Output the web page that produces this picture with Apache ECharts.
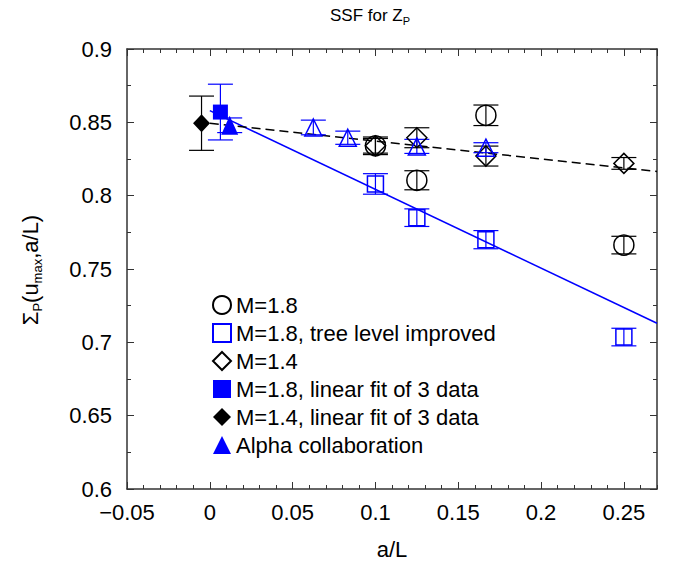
<!DOCTYPE html>
<html><head><meta charset="utf-8">
<script src="https://cdn.jsdelivr.net/npm/echarts@6/dist/echarts.min.js"></script>
<style>html,body{margin:0;padding:0;background:#fff}#c{width:678px;height:565px}</style>
</head><body><div id="c"></div>
<script>
// ---- tick labels ----
const xTicks = [-0.05, 0, 0.05, 0.1, 0.15, 0.2, 0.25];
const yTicks = [0.6, 0.65, 0.7, 0.75, 0.8, 0.85, 0.9];

// ---- M=1.8 (open circle) ----
const m18X = [0.1, 0.125, 0.1667, 0.25];
const m18Y = [0.834, 0.8105, 0.8548, 0.7663];
const m18Err = [0.006, 0.0065, 0.007, 0.006];

// ---- M=1.8 tree level improved (open blue square) ----
const m18tX = [0.1, 0.125, 0.1667, 0.25];
const m18tY = [0.808, 0.785, 0.770, 0.7036];
const m18tErr = [0.007, 0.006, 0.0062, 0.006];

// ---- M=1.4 (open diamond) ----
const m14X = [0.1, 0.125, 0.1667, 0.25];
const m14Y = [0.834, 0.8395, 0.827, 0.822];
const m14Err = [0.005, 0.0068, 0.0068, 0.004];

// ---- extrapolated values ----
const fit18X = [0.0064], fit18Y = [0.857], fit18Err = [0.019];
const fit14X = [-0.005], fit14Y = [0.8494], fit14Err = [0.0185];
const alphaX = [0.012], alphaY = [0.848], alphaErr = [0.005];

// ---- ALPHA collaboration data (open blue triangles) ----
const alphaOpenX = [0.0625, 0.0833, 0.125, 0.1667];
const alphaOpenY = [0.8465, 0.8395, 0.8336, 0.8327];
const alphaOpenErr = [0.005, 0.0045, 0.0048, 0.0034];

// ---- fit lines ----
const line18X = [0, 0.27], line18Y = [0.858, 0.713];
const line14X = [0, 0.27], line14Y = [0.8494, 0.8165];

const FONT = '"Liberation Sans", Arial, Helvetica, sans-serif';
const BLUE = '#0000ff';
const BLACK = '#000000';

function pts(xs, ys) { return xs.map((x, i) => [x, ys[i]]); }
function errs(xs, ys, es) { return xs.map((x, i) => [x, ys[i] - es[i], ys[i] + es[i]]); }

function errRender(color) {
  return function (params, api) {
    const p1 = api.coord([api.value(0), api.value(1)]);
    const p2 = api.coord([api.value(0), api.value(2)]);
    const hw = 12.5;
    const st = { stroke: color, lineWidth: 1.2, fill: 'none' };
    return { type: 'group', children: [
      { type: 'line', shape: { x1: p1[0], y1: p1[1], x2: p2[0], y2: p2[1] }, style: st },
      { type: 'line', shape: { x1: p1[0] - hw, y1: p1[1], x2: p1[0] + hw, y2: p1[1] }, style: st },
      { type: 'line', shape: { x1: p2[0] - hw, y1: p2[1], x2: p2[0] + hw, y2: p2[1] }, style: st }
    ]};
  };
}
function errSeries(xs, ys, es, color) {
  return { type: 'custom', silent: true, xAxisIndex: 0, yAxisIndex: 0,
    renderItem: errRender(color), encode: { x: 0, y: [1, 2] }, data: errs(xs, ys, es), z: 2 };
}
function scat(name, xs, ys, symbol, size, fill, stroke, bw) {
  return { type: 'scatter', name: name, xAxisIndex: 0, yAxisIndex: 0, symbol: symbol, symbolSize: size,
    itemStyle: { color: fill, borderColor: stroke, borderWidth: bw, opacity: 1 },
    emphasis: { disabled: true }, data: pts(xs, ys), z: 3 };
}
function fmt(v) {
  const r = Math.round(v * 1000) / 1000;
  return (r < 0 ? '\u2212' : '') + String(Math.abs(r));
}
const axisCol = '#333';
function xAx(pos, interval, main) {
  return { type: 'value', position: pos, min: -0.05, max: 0.27, interval: interval,
    axisLine: { show: main, onZero: false, lineStyle: { color: axisCol, width: 1.5 } },
    axisTick: { show: true, inside: true, length: main ? 7 : 4, lineStyle: { color: axisCol, width: 1 } },
    axisLabel: { show: main && pos === 'bottom', fontSize: 22, fontFamily: FONT, color: '#000', margin: 12,
      showMaxLabel: false,
      formatter: v => xTicks.some(t => Math.abs(t - v) < 1e-6) ? fmt(v) : '' },
    splitLine: { show: false },
    name: (main && pos === 'bottom') ? 'a/L' : '', nameLocation: 'middle', nameGap: 49,
    nameTextStyle: { fontSize: 22, fontFamily: FONT, color: '#000' } };
}
function yAx(pos, main) {
  return { type: 'value', position: pos, min: 0.6, max: 0.9, interval: 0.05,
    axisLine: { show: true, onZero: false, lineStyle: { color: axisCol, width: 1.5 } },
    axisTick: { show: true, inside: true, length: 7, lineStyle: { color: axisCol, width: 1 } },
    minorTick: { show: true, splitNumber: 2, length: 4, lineStyle: { color: axisCol, width: 1 } },
    axisLabel: { show: main, fontSize: 22, fontFamily: FONT, color: '#000', margin: 15,
      formatter: v => yTicks.some(t => Math.abs(t - v) < 1e-6) ? fmt(v) : '' },
    splitLine: { show: false } };
}

const chart = echarts.init(document.getElementById('c'), null, { renderer: 'svg' });
chart.setOption({
  animation: false,
  backgroundColor: '#fff',
  grid: { left: 127, right: 21, top: 49, bottom: 74 },
  xAxis: [xAx('bottom', 0.05, true), xAx('top', 0.05, true), xAx('bottom', 0.01, false), xAx('top', 0.01, false)],
  yAxis: [yAx('left', true), yAx('right', false)],
  legend: {
    orient: 'vertical', left: 207, top: 289, itemWidth: 18, itemHeight: 18, itemGap: 6,
    selectedMode: false, textStyle: { fontSize: 22, fontFamily: FONT, color: '#000' },
    data: [
      { name: 'M=1.8', icon: 'circle' },
      { name: 'M=1.8, tree level improved', icon: 'rect' },
      { name: 'M=1.4', icon: 'diamond' },
      { name: 'M=1.8, linear fit of 3 data', icon: 'rect' },
      { name: 'M=1.4, linear fit of 3 data', icon: 'diamond' },
      { name: 'Alpha collaboration', icon: 'triangle' }
    ]
  },
  graphic: [
    { type: 'text', x: 370, y: 15, style: { text: '{a|SSF for Z}{s|P}', textAlign: 'center', textVerticalAlign: 'middle',
      rich: { a: { fontSize: 17, fontFamily: FONT, fill: '#000', lineHeight: 22, verticalAlign: 'middle' },
              s: { fontSize: 11, fontFamily: FONT, fill: '#000', lineHeight: 14, verticalAlign: 'bottom' } } } },
    { type: 'text', x: 30, y: 270, rotation: Math.PI / 2,
      style: { text: '{a|\u03A3}{s|P}{a|(u}{s|max}{a|,a/L)}', textAlign: 'center', textVerticalAlign: 'middle',
      rich: { a: { fontSize: 22, fontFamily: FONT, fill: '#000', lineHeight: 28, verticalAlign: 'middle' },
              s: { fontSize: 13, fontFamily: FONT, fill: '#000', lineHeight: 14, verticalAlign: 'bottom' } } } }
  ],
  series: [
    errSeries(m18X, m18Y, m18Err, BLACK),
    errSeries(m18tX, m18tY, m18tErr, BLUE),
    errSeries(m14X, m14Y, m14Err, BLACK),
    errSeries(fit18X, fit18Y, fit18Err, BLUE),
    errSeries(fit14X, fit14Y, fit14Err, BLACK),
    errSeries(alphaX, alphaY, alphaErr, BLUE),
    errSeries(alphaOpenX, alphaOpenY, alphaOpenErr, BLUE),
    { type: 'line', name: 'fit18', xAxisIndex: 0, yAxisIndex: 0, data: pts(line18X, line18Y), symbol: 'none',
      lineStyle: { color: BLUE, width: 1.5 }, silent: true, z: 1 },
    { type: 'line', name: 'fit14', xAxisIndex: 0, yAxisIndex: 0, data: pts(line14X, line14Y), symbol: 'none',
      lineStyle: { color: BLACK, width: 1.5, type: [9, 5] }, silent: true, z: 1 },
    scat('M=1.8', m18X, m18Y, 'circle', 20, 'transparent', BLACK, 1.5),
    scat('M=1.8, tree level improved', m18tX, m18tY, 'rect', 16, 'transparent', BLUE, 1.5),
    scat('M=1.4', m14X, m14Y, 'diamond', 20, 'transparent', BLACK, 1.5),
    scat('M=1.8, linear fit of 3 data', fit18X, fit18Y, 'rect', 15, BLUE, BLUE, 0),
    scat('M=1.4, linear fit of 3 data', fit14X, fit14Y, 'diamond', [17, 18], BLACK, BLACK, 0),
    scat('Alpha collaboration', alphaX, alphaY, 'triangle', [17, 19], BLUE, BLUE, 0),
    scat('alphaOpen', alphaOpenX, alphaOpenY, 'triangle', [17, 17], 'transparent', BLUE, 1.5)
  ]
});
</script></body></html>
